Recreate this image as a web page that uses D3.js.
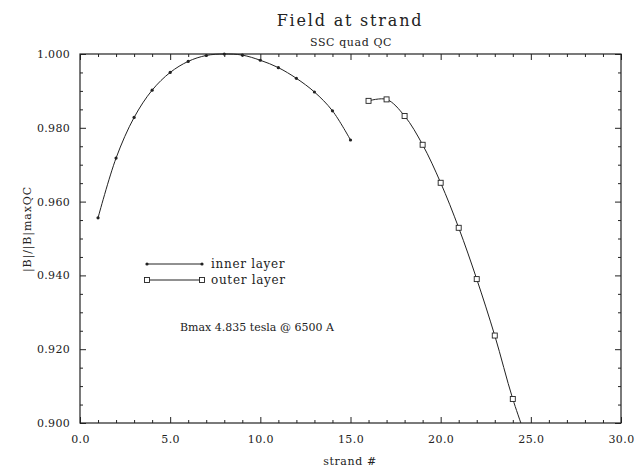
<!DOCTYPE html>
<html>
<head>
<meta charset="utf-8">
<script src="https://cdn.jsdelivr.net/npm/d3@7"></script>
<style>
  body { margin: 0; background: #fff; }
  text { font-family: "DejaVu Serif", serif; fill: #222; }
</style>
</head>
<body>
<script>
const strandInner = [1, 2, 3, 4, 5, 6, 7, 8, 9, 10, 11, 12, 13, 14, 15];
const innerLayer = [0.9556, 0.9718, 0.9828, 0.9902, 0.9950, 0.9980, 0.9996, 1.0000,
                    0.9997, 0.9983, 0.9963, 0.9934, 0.9897, 0.9846, 0.9767];
const strandOuter = [16, 17, 18, 19, 20, 21, 22, 23, 24, 25];
const outerLayer = [0.9873, 0.9877, 0.9832, 0.9754, 0.9651, 0.9529, 0.9390, 0.9237, 0.9065, 0.8924];

const xTicks = [0, 5, 10, 15, 20, 25, 30];
const yTicks = [0.900, 0.920, 0.940, 0.960, 0.980, 1.000];
const legendNames = ["inner layer", "outer layer"];

const width = 638, height = 469;
const plotL = 80, plotR = 621, plotT = 54, plotB = 423;
const ink = "#222";

const svg = d3.select("body").append("svg")
    .attr("width", width)
    .attr("height", height);

const x = d3.scaleLinear().domain([0, 30]).range([plotL, plotR]);
const y = d3.scaleLinear().domain([0.9, 1.0]).range([plotB, plotT]);

const xMinor = d3.range(0, 31, 1).filter(v => v % 5 !== 0);
const yMinor = d3.range(0, 21).map(i => 0.9 + i * 0.005).filter((v, i) => i % 4 !== 0);

// major + minor ticks, all pointing inward
function ticks(axis, pos, values, size, labels) {
    const g = svg.append("g")
        .attr("transform", pos)
        .call(axis.tickValues(values).tickSizeInner(size).tickSizeOuter(0)
            .tickFormat(labels ? labels : ""));
    g.select(".domain").remove();
    g.selectAll("line").attr("stroke", ink).attr("stroke-width", 1);
    return g;
}

const gx = ticks(d3.axisBottom(x), `translate(0,${plotB})`, xTicks, -6, d3.format(".1f"));
gx.selectAll("text").attr("y", 9).attr("dy", "1em")
    .style("font-size", "11px").style("letter-spacing", "0.4px");
ticks(d3.axisBottom(x), `translate(0,${plotB})`, xMinor, -3);
ticks(d3.axisTop(x), `translate(0,${plotT})`, xTicks, -6);
ticks(d3.axisTop(x), `translate(0,${plotT})`, xMinor, -3);

const gy = ticks(d3.axisLeft(y), `translate(${plotL},0)`, yTicks, -6, d3.format(".3f"));
gy.selectAll("text").attr("x", -10)
    .style("font-size", "11px").style("letter-spacing", "0.3px");
ticks(d3.axisLeft(y), `translate(${plotL},0)`, yMinor, -3);
ticks(d3.axisRight(y), `translate(${plotR},0)`, yTicks, -6);
ticks(d3.axisRight(y), `translate(${plotR},0)`, yMinor, -3);

svg.append("rect")
    .attr("x", plotL).attr("y", plotT)
    .attr("width", plotR - plotL).attr("height", plotB - plotT)
    .attr("fill", "none").attr("stroke", ink).attr("stroke-width", 1.2);

svg.append("clipPath").attr("id", "plot")
    .append("rect")
    .attr("x", plotL).attr("y", plotT - 4)
    .attr("width", plotR - plotL).attr("height", plotB - plotT + 4);

const plot = svg.append("g").attr("clip-path", "url(#plot)");

const line = d3.line().curve(d3.curveCatmullRom).x(d => x(d[0])).y(d => y(d[1]));
const inner = strandInner.map((s, i) => [s, innerLayer[i]]);
const outer = strandOuter.map((s, i) => [s, outerLayer[i]]);

plot.append("path").datum(inner).attr("d", line)
    .attr("fill", "none").attr("stroke", ink).attr("stroke-width", 1);
plot.append("path").datum(outer).attr("d", line)
    .attr("fill", "none").attr("stroke", ink).attr("stroke-width", 1);

plot.selectAll(".dot").data(inner).join("circle")
    .attr("class", "dot")
    .attr("cx", d => x(d[0])).attr("cy", d => y(d[1]))
    .attr("r", 1.6).attr("fill", ink);

plot.selectAll(".sq").data(outer).join("rect")
    .attr("class", "sq")
    .attr("x", d => x(d[0]) - 2.5).attr("y", d => y(d[1]) - 2.5)
    .attr("width", 5).attr("height", 5)
    .attr("fill", "#fff").attr("stroke", ink).attr("stroke-width", 0.9);

// legend
const leg = svg.append("g");
legendNames.forEach((name, i) => {
    const ly = 264 + i * 16;
    leg.append("line").attr("x1", 147).attr("x2", 202).attr("y1", ly).attr("y2", ly)
        .attr("stroke", ink).attr("stroke-width", 1);
    if (i === 0) {
        [147, 202].forEach(px => leg.append("circle").attr("cx", px).attr("cy", ly)
            .attr("r", 1.6).attr("fill", ink));
    } else {
        [147, 202].forEach(px => leg.append("rect").attr("x", px - 2.5).attr("y", ly - 2.5)
            .attr("width", 5).attr("height", 5)
            .attr("fill", "#fff").attr("stroke", ink).attr("stroke-width", 0.9));
    }
    leg.append("text").attr("x", 211).attr("y", ly + 4)
        .style("font-size", "12px").style("letter-spacing", "0.7px").text(name);
});

svg.append("text").attr("x", 180).attr("y", 331)
    .style("font-size", "11px").text("Bmax 4.835 tesla @ 6500 A");

// titles
svg.append("text").attr("x", 350).attr("y", 26).attr("text-anchor", "middle")
    .style("font-size", "16px").style("letter-spacing", "1.8px").text("Field at strand");
svg.append("text").attr("x", 351).attr("y", 46).attr("text-anchor", "middle")
    .style("font-size", "11px").style("letter-spacing", "0.6px").text("SSC quad QC");

svg.append("text").attr("x", 350).attr("y", 465).attr("text-anchor", "middle")
    .style("font-size", "11px").style("letter-spacing", "0.6px").text("strand #");
svg.append("text")
    .attr("transform", "translate(31,229) rotate(-90)")
    .attr("text-anchor", "middle")
    .style("font-size", "11px").style("letter-spacing", "0.9px").text("|B|/|B|maxQC");
</script>
</body>
</html>
